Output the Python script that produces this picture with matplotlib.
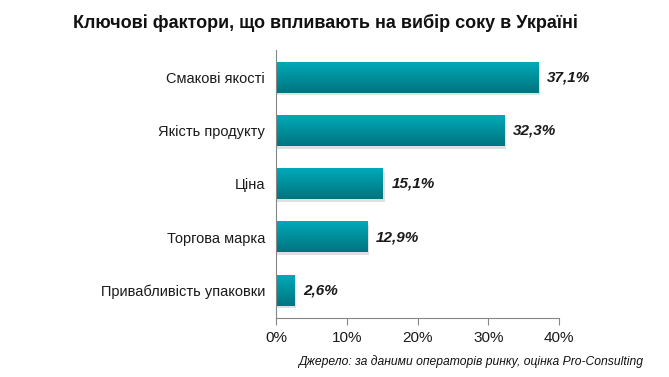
import numpy as np
import matplotlib
matplotlib.use('Agg')
import matplotlib.pyplot as plt
from matplotlib.colors import LinearSegmentedColormap

plt.rcParams['font.family'] = ['Liberation Sans', 'DejaVu Sans']

#Data
categories = ['Смакові якості', 'Якість продукту', 'Ціна', 'Торгова марка', 'Привабливість упаковки']
values = [37.1, 32.3, 15.1, 12.9, 2.6]
value_labels = ['37,1%', '32,3%', '15,1%', '12,9%', '2,6%']
ticks = [0, 10, 20, 30, 40]
tick_labels = ['0%', '10%', '20%', '30%', '40%']

fig = plt.figure(figsize=(6.69, 3.77), dpi=100)
ax = fig.add_axes([276/669, 1-318/377, (559-276)/669, (318-50)/377])

h = 0.57
grad = LinearSegmentedColormap.from_list('teal', ['#00a9b9', '#008f9c', '#00747f'])
g = np.linspace(0, 1, 64).reshape(-1, 1)
for i, v in enumerate(values):
    #soft shadow under each bar
    ax.barh(i + 0.05, v + 0.25, height=h, left=0, color='#000000', alpha=0.12, zorder=1)
    #bar with vertical gradient
    ax.imshow(g, cmap=grad, extent=(0, v, i + h/2, i - h/2), aspect='auto', zorder=2)
    ax.text(v + 1.2, i, value_labels[i], va='center', ha='left', fontsize=11,
            fontweight='bold', fontstyle='italic', color='#1a1a1a')

ax.set_xlim(0, 40)
ax.set_ylim(4.52, -0.52)
ax.set_yticks(range(len(categories)))
ax.set_yticklabels(categories, fontsize=10.5, color='#1a1a1a')
ax.set_xticks(ticks)
ax.set_xticklabels(tick_labels, fontsize=11, color='#1a1a1a')
ax.tick_params(axis='y', length=0, pad=8)
ax.tick_params(axis='x', direction='out', length=5, color='#868686', pad=4)
for s in ['top', 'right']:
    ax.spines[s].set_visible(False)
ax.spines['left'].set_color('#868686')
ax.spines['bottom'].set_color('#868686')

fig.text(325/669, 1-23/377, 'Ключові фактори, що впливають на вибір соку в Україні',
         ha='center', va='center', fontsize=13, fontweight='bold', color='#111111')
fig.text(643/669, 1-362/377, 'Джерело: за даними операторів ринку, оцінка Pro-Consulting',
         ha='right', va='center', fontsize=8.7, fontstyle='italic', color='#111111')

fig.savefig('out.png', dpi=100)
